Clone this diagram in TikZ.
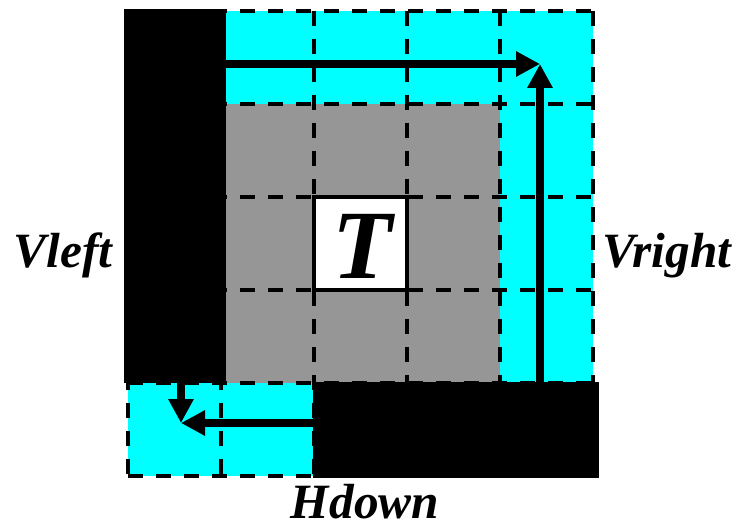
\documentclass[tikz,border=0pt]{standalone}
\usepackage{fontspec}
\setmainfont{Liberation Serif}
\usetikzlibrary{arrows.meta}
\definecolor{cyanfill}{RGB}{0,255,255}
\definecolor{grayfill}{RGB}{150,150,150}
\tikzset{
  gridline/.style={line width=3.3pt, dash pattern=on 11.25pt off 9.75pt},
  blockfill/.style={fill=black},
  bigarrow/.style={line width=6pt, -{Triangle[length=18pt,width=18pt]}},
  label/.style={font=\fontsize{37}{40}\selectfont\bfseries\itshape, inner sep=0pt, anchor=base},
}
\begin{document}
\begin{tikzpicture}[x=0.75pt,y=-0.75pt]
\useasboundingbox (0,0) rectangle (735,524);
% fills
\fill[cyanfill] (226,11) rectangle (593,104);
\fill[cyanfill] (500,11) rectangle (593,383);
\fill[cyanfill] (128,383) rectangle (314,476);
\fill[grayfill] (226,104) rectangle (500,383);
% dashed grid
\foreach \x in {128,221,314,407,500,593} \draw[gridline] (\x,11) -- (\x,476);
\foreach \y in {11,104,197,290,383,476} \draw[gridline] (128,\y) -- (593,\y);
% black blocks
\fill[blockfill] (124,9) rectangle (226,383);
\fill[blockfill] (313,382) rectangle (599,478);
% T box
\node[draw=black, line width=3.4pt, fill=white, minimum width=69.75pt, minimum height=69.75pt, inner sep=0pt] (tbox) at (360.5,243.5) {};
\node[label, font=\fontsize{73.5}{76}\selectfont\bfseries\itshape] (tlabel) at (362,278) {T};
% arrow coordinates
\coordinate (topstart) at (226,64);
\coordinate (topcorner) at (540,64);
\coordinate (rightstart) at (540,383);
\coordinate (leftstart) at (181,383);
\coordinate (botcorner) at (181,423);
\coordinate (botstart) at (313,423);
\draw[bigarrow] (topstart) -- (topcorner);
\draw[bigarrow] (rightstart) -- (topcorner);
\draw[bigarrow] (leftstart) -- (botcorner);
\draw[bigarrow] (botstart) -- (botcorner);
% labels
\node[label] (vleft) at (63,267) {Vleft};
\node[label] (vright) at (667,267) {Vright};
\node[label] (hdown) at (365,518) {Hdown};
\end{tikzpicture}
\end{document}
